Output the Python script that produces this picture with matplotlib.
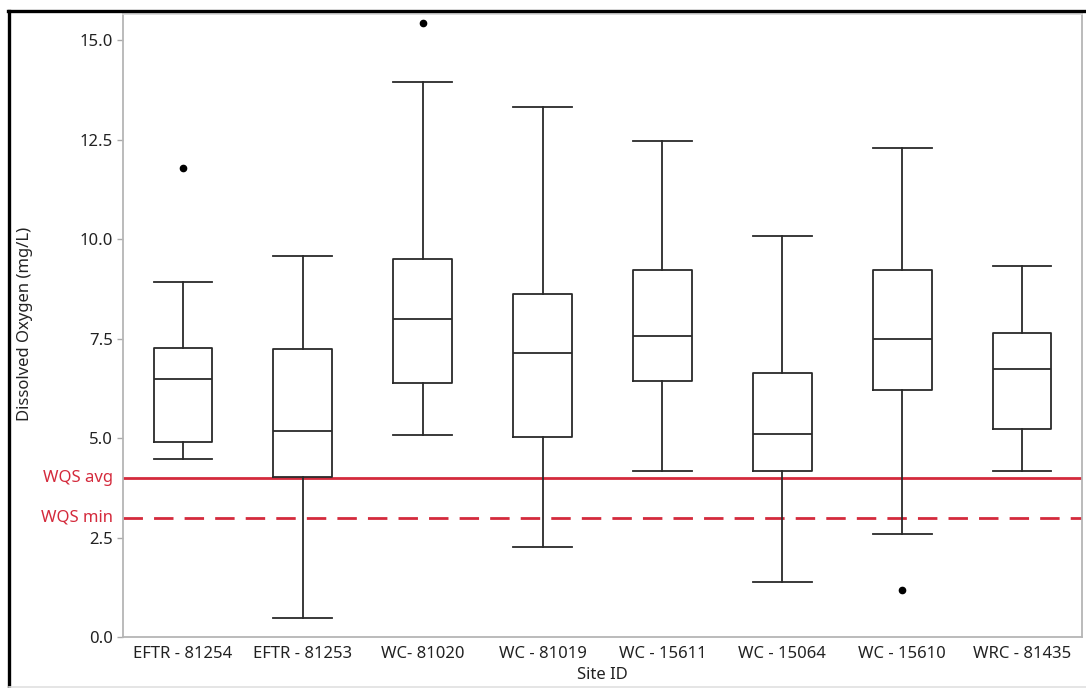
import matplotlib
matplotlib.use('Agg')
import matplotlib.pyplot as plt
from matplotlib.lines import Line2D
from matplotlib.transforms import blended_transform_factory

plt.rcParams['font.family'] = ['Noto Sans', 'DejaVu Sans']

# 数据：箱线图统计量
sites = ['EFTR - 81254', 'EFTR - 81253', 'WC- 81020', 'WC - 81019',
         'WC - 15611', 'WC - 15064', 'WC - 15610', 'WRC - 81435']
whislo = [4.48, 0.49, 5.09, 2.27, 4.19, 1.40, 2.59, 4.19]
q1 = [4.91, 4.02, 6.39, 5.04, 6.44, 4.19, 6.22, 5.23]
med = [6.50, 5.18, 7.99, 7.13, 7.57, 5.10, 7.49, 6.75]
q3 = [7.27, 7.24, 9.50, 8.62, 9.23, 6.63, 9.23, 7.65]
whishi = [8.93, 9.59, 13.94, 13.33, 12.48, 10.08, 12.29, 9.34]
fliers = [[11.79], [], [15.43], [], [], [], [1.20], []]

wqs_avg = 4.0
wqs_min = 3.0
red = '#d42a3c'

stats = []
for i in range(len(sites)):
    stats.append({'label': sites[i], 'whislo': whislo[i], 'q1': q1[i], 'med': med[i],
                  'q3': q3[i], 'whishi': whishi[i], 'fliers': fliers[i]})

fig = plt.figure(figsize=(10.86, 6.88), dpi=100)
ax = fig.add_axes([0.1133, 0.0737, 0.8830, 0.9060])

line_kw = dict(color='#2a2a2a', linewidth=1.3)
ax.bxp(stats, positions=range(len(sites)), widths=0.49, capwidths=0.49,
       boxprops=line_kw, whiskerprops=line_kw, capprops=line_kw,
       medianprops=line_kw,
       flierprops=dict(marker='o', markerfacecolor='black', markeredgecolor='black',
                       markersize=4.5, linestyle='none'))

# 水质标准线
ax.axhline(wqs_avg, color=red, linewidth=2, zorder=0)
ax.axhline(wqs_min, color=red, linewidth=2, linestyle=(0, (7, 4)), zorder=0)
trans = blended_transform_factory(ax.transAxes, ax.transData)
ax.text(-0.0105, wqs_avg, 'WQS avg', color=red, fontsize=12, ha='right', va='center', transform=trans)
ax.text(-0.0105, wqs_min, 'WQS min', color=red, fontsize=12, ha='right', va='center', transform=trans)

ax.set_xlim(-0.5, len(sites) - 0.5)
ax.set_ylim(0, 15.66)
ax.set_yticks([0, 2.5, 5, 7.5, 10, 12.5, 15])
ax.set_yticklabels(['0.0', '2.5', '5.0', '7.5', '10.0', '12.5', '15.0'])
ax.tick_params(axis='y', length=4, width=1, color='#aaaaaa', pad=3.5, labelsize=12, labelcolor='#222222')
ax.tick_params(axis='x', length=0, pad=6, labelsize=12, labelcolor='#222222')

for side in ['left', 'bottom', 'right', 'top']:
    ax.spines[side].set_color('#b5b5b5')
    ax.spines[side].set_linewidth(1.3)
ax.spines['top'].set_color('#d8d8d8')

ax.set_ylabel('Dissolved Oxygen (mg/L)', fontsize=12, color='#222222')
ax.yaxis.set_label_coords(-0.094, 0.503)
ax.set_xlabel('Site ID', fontsize=12, color='#222222', labelpad=4)

# 外框（截图边框）
fig.add_artist(Line2D([0.0087, 0.0087], [0.0, 0.984], color='black', linewidth=2.4, transform=fig.transFigure))
fig.add_artist(Line2D([0.0075, 1.0], [0.984, 0.984], color='black', linewidth=2.4, transform=fig.transFigure))
fig.add_artist(Line2D([0.0087, 1.0], [0.0015, 0.0015], color='#e0e0e0', linewidth=1.2, transform=fig.transFigure))

fig.savefig('out.png', dpi=100)
